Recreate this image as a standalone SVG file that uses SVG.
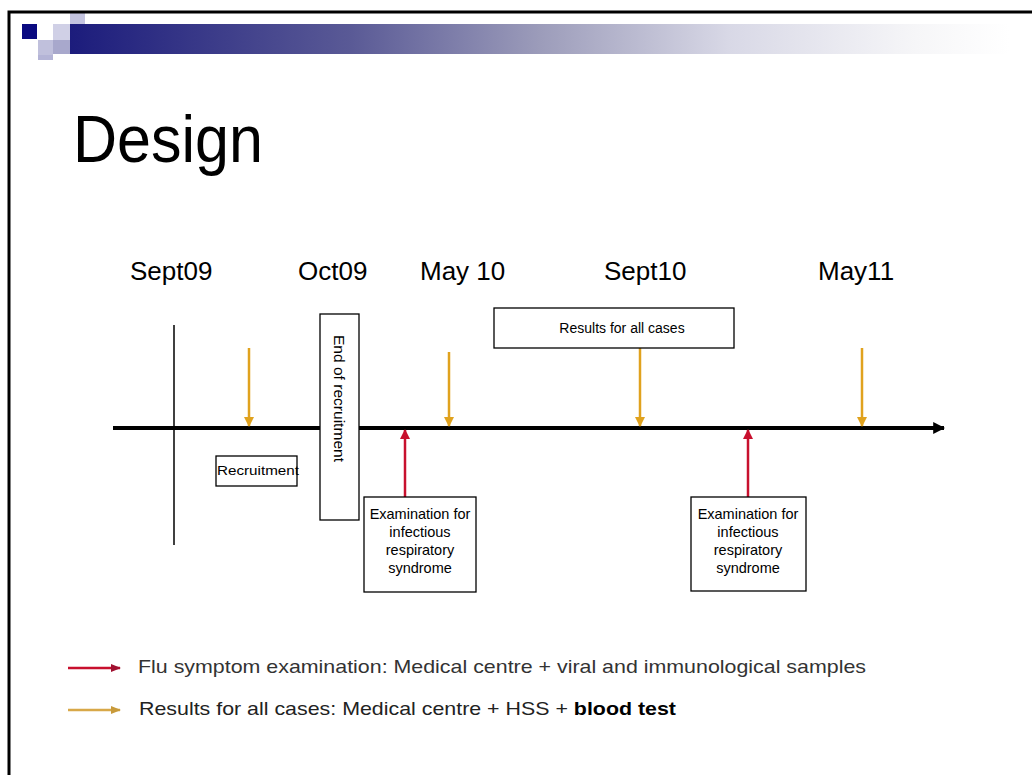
<svg xmlns="http://www.w3.org/2000/svg" width="1032" height="775" viewBox="0 0 1032 775">
<defs>
<linearGradient id="band" x1="0" y1="0" x2="1" y2="0">
<stop offset="0" stop-color="#1c1c7c"/>
<stop offset="0.3" stop-color="#5a5a96"/>
<stop offset="0.5" stop-color="#9c9cba"/>
<stop offset="0.7" stop-color="#d8d8e6"/>
<stop offset="0.9" stop-color="#f6f6f8"/>
<stop offset="1" stop-color="#ffffff"/>
</linearGradient>
<marker id="ao" viewBox="0 0 10 10" refX="9" refY="5" markerWidth="4" markerHeight="4" orient="auto"><path d="M0,0 L10,5 L0,10 z" fill="#e0a21e"/></marker>
<marker id="ar" viewBox="0 0 10 10" refX="9" refY="5" markerWidth="4" markerHeight="4" orient="auto"><path d="M0,0 L10,5 L0,10 z" fill="#c8102e"/></marker>
<marker id="ak" viewBox="0 0 10 10" refX="9" refY="5" markerWidth="3" markerHeight="3" orient="auto"><path d="M0,0 L10,5 L0,10 z" fill="#000"/></marker>
<marker id="lr" viewBox="0 0 10 10" refX="9" refY="5" markerWidth="4" markerHeight="4" orient="auto"><path d="M0,1 L10,5 L0,9 z" fill="#a01030"/></marker>
<marker id="lo" viewBox="0 0 10 10" refX="9" refY="5" markerWidth="4" markerHeight="4" orient="auto"><path d="M0,1 L10,5 L0,9 z" fill="#c89a3a"/></marker>
<style>
.box{fill:#fff;stroke:#000;stroke-width:1.3}
.t{font-family:"Liberation Sans",Arial,sans-serif;fill:#000}
.s{font-size:14.5px}
.date{font-size:26px}
.or{stroke:#e0a21e;stroke-width:2.5;fill:none}
.rd{stroke:#c8102e;stroke-width:2.5;fill:none}
</style>
</defs>
<rect width="1032" height="775" fill="#fff"/>
<g id="header">
<rect x="70" y="24" width="940" height="30" fill="url(#band)"/>
<rect x="70" y="12" width="15" height="12" fill="#c4c4e0"/>
<rect x="53" y="24" width="17" height="16" fill="#d0d0e6"/>
<rect x="53" y="40" width="17" height="14" fill="#a8a8cc"/>
<rect x="38" y="40" width="15" height="15" fill="#c0c0dc"/>
<rect x="38" y="55" width="15" height="5" fill="#b4b4d6"/>
<rect x="22" y="24" width="15" height="15" fill="#0a0a80"/>
<path d="M9,775 L9,12 L1032,12" fill="none" stroke="#000" stroke-width="3"/>
</g>
<text class="t" x="73" y="162" font-size="66" textLength="190" lengthAdjust="spacingAndGlyphs">Design</text>
<g id="dates" class="t date">
<text x="130" y="280">Sept09</text>
<text x="298" y="280">Oct09</text>
<text x="420" y="280">May 10</text>
<text x="604" y="280">Sept10</text>
<text x="818" y="280">May11</text>
</g>
<g id="connectors">
<line x1="113" y1="428" x2="944" y2="428" stroke="#000" stroke-width="4" marker-end="url(#ak)"/>
<line x1="174" y1="325" x2="174" y2="545" stroke="#000" stroke-width="1.5"/>
<line class="or" x1="249" y1="348" x2="249" y2="426" marker-end="url(#ao)"/>
<line class="or" x1="449" y1="352" x2="449" y2="426" marker-end="url(#ao)"/>
<line class="or" x1="640" y1="348" x2="640" y2="426" marker-end="url(#ao)"/>
<line class="or" x1="862" y1="348" x2="862" y2="426" marker-end="url(#ao)"/>
<line class="rd" x1="405" y1="497" x2="405" y2="430" marker-end="url(#ar)"/>
<line class="rd" x1="748" y1="497" x2="748" y2="430" marker-end="url(#ar)"/>
</g>
<g id="recruitment">
<rect class="box" x="216" y="456" width="81" height="30"/>
<text class="t" x="217" y="475" font-size="12" textLength="82" lengthAdjust="spacingAndGlyphs">Recruitment</text>
</g>
<g id="end-recruitment">
<rect class="box" x="320" y="314" width="39" height="206"/>
<text class="t" font-size="15" transform="translate(334,335) rotate(90)" textLength="127" lengthAdjust="spacingAndGlyphs">End of recruitment</text>
</g>
<g id="results">
<rect class="box" x="494" y="308" width="240" height="40"/>
<text class="t" x="622" y="333" font-size="14" text-anchor="middle">Results for all cases</text>
</g>
<g id="exam1" class="t s" text-anchor="middle">
<rect class="box" x="364" y="497" width="112" height="95"/>
<text x="420" y="519">Examination for</text>
<text x="420" y="537">infectious</text>
<text x="420" y="555">respiratory</text>
<text x="420" y="573">syndrome</text>
</g>
<g id="exam2" class="t s" text-anchor="middle">
<rect class="box" x="691" y="497" width="115" height="94"/>
<text x="748" y="519">Examination for</text>
<text x="748" y="537">infectious</text>
<text x="748" y="555">respiratory</text>
<text x="748" y="573">syndrome</text>
</g>
<g id="legend">
<line x1="68" y1="668" x2="120" y2="668" stroke="#c8102e" stroke-width="2.5" marker-end="url(#lr)"/>
<line x1="68" y1="710" x2="120" y2="710" stroke="#d8a848" stroke-width="2.5" marker-end="url(#lo)"/>
<text class="t" x="138" y="673" font-size="19" style="fill:#333" textLength="728" lengthAdjust="spacingAndGlyphs">Flu symptom examination: Medical centre + viral and immunological samples</text>
<text class="t" x="139" y="715" font-size="19" style="fill:#222" textLength="537" lengthAdjust="spacingAndGlyphs">Results for all cases: Medical centre + HSS + <tspan font-weight="bold" style="fill:#000">blood test</tspan></text>
</g>
</svg>
